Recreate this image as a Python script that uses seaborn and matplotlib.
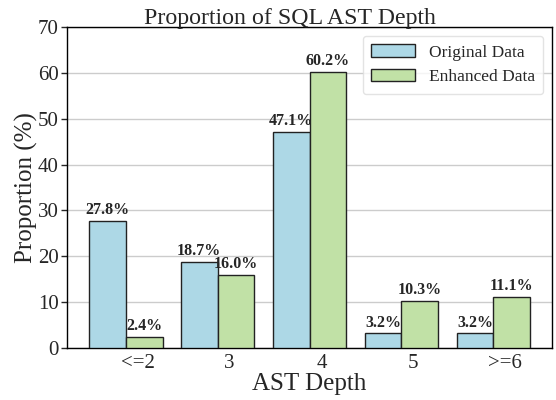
import numpy as np
import pandas as pd
import matplotlib
matplotlib.use('Agg')
import matplotlib.pyplot as plt
import seaborn as sns

depth_labels = ['<=2', '3', '4', '5', '>=6']
original_data = [27.8, 18.7, 47.1, 3.2, 3.2]
enhanced_data = [2.4, 16.0, 60.2, 10.3, 11.1]
series_names = ['Original Data', 'Enhanced Data']

df = pd.DataFrame({
    'depth': depth_labels * 2,
    'value': original_data + enhanced_data,
    'series': [series_names[0]] * len(depth_labels) + [series_names[1]] * len(depth_labels),
})

sns.set_style('white')
plt.rcParams['font.family'] = ['Liberation Serif', 'DejaVu Serif']

fig, ax = plt.subplots(figsize=(5.56, 4), dpi=100)
fig.subplots_adjust(left=0.1205, right=0.993, top=0.9325, bottom=0.13)

sns.barplot(data=df, x='depth', y='value', hue='series', order=depth_labels,
            hue_order=series_names, palette=['#add8e6', '#c1e1a6'], saturation=1,
            edgecolor='#222222', linewidth=1.0, width=0.8, ax=ax, zorder=3)

for cont in ax.containers:
    ax.bar_label(cont, fmt='%.1f%%', padding=2, fontsize=11.5, fontweight='bold')

ax.set_xticks(np.arange(len(depth_labels)) + 0.13)
ax.set_xticklabels(depth_labels)
ax.set_xlim(-0.64, 4.64)
ax.set_ylim(0, 70)
ax.set_yticks(range(0, 71, 10))
ax.tick_params(axis='x', length=0, labelsize=15, pad=4)
ax.tick_params(axis='y', length=4, width=1, labelsize=15, left=True, pad=2)
ax.yaxis.grid(True, color='#cccccc', linewidth=1, zorder=0)
ax.set_axisbelow(True)
for sp in ax.spines.values():
    sp.set_color('black')
    sp.set_linewidth(1)

ax.set_title('Proportion of SQL AST Depth', fontsize=17.2, pad=2, x=0.46)
ax.set_xlabel('AST Depth', fontsize=18, labelpad=0)
ax.set_ylabel('Proportion (%)', fontsize=18, labelpad=0)
ax.legend(loc='upper right', fontsize=12.5, frameon=True, edgecolor='#dddddd',
          handlelength=2.5, borderpad=0.5)

fig.savefig('out.png', dpi=100)
